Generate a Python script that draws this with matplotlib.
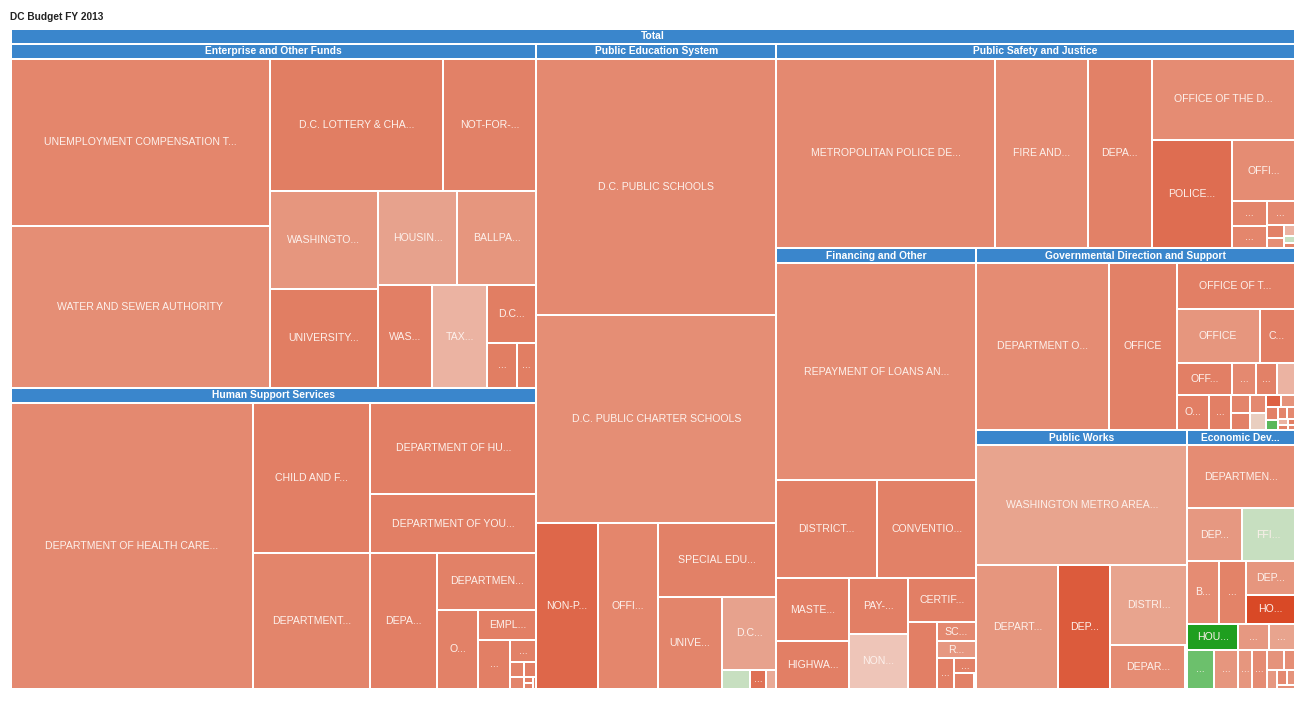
import matplotlib
matplotlib.use("Agg")
import matplotlib.pyplot as plt
from matplotlib.patches import Rectangle
from matplotlib.colors import LinearSegmentedColormap

# ---------------- data (values in $ millions, score = colour metric 0..1) ----------------
title = "DC Budget FY 2013"
root_name = "Total"

group_names = ["Enterprise and Other Funds", "Human Support Services", "Public Education System",
               "Public Safety and Justice", "Financing and Other",
               "Governmental Direction and Support", "Public Works", "Economic Dev..."]

enterprise_labels = ["UNEMPLOYMENT COMPENSATION T...", "WATER AND SEWER AUTHORITY", "D.C. LOTTERY & CHA...",
                     "NOT-FOR-...", "WASHINGTO...", "UNIVERSITY...", "HOUSIN...", "BALLPA...", "WAS...",
                     "TAX...", "D.C...", "...", "..."]
enterprise_values = [546.4, 526.8, 288.0, 153.9, 133.6, 133.6, 95.0, 94.0, 70.1, 70.1, 35.6, 16.8, 10.6]
enterprise_scores = [0.75, 0.72, 0.80, 0.78, 0.69, 0.80, 0.64, 0.69, 0.79, 0.55, 0.80, 0.80, 0.80]

human_labels = ["DEPARTMENT OF HEALTH CARE...", "CHILD AND F...", "DEPARTMENT...", "DEPARTMENT OF HU...",
                "DEPARTMENT OF YOU...", "DEPA...", "DEPARTMEN...", "O...", "EMPL...", "...", "...",
                "", "", "", "", "", ""]
human_values = [877.4, 222.5, 201.6, 192.3, 123.9, 114.7, 70.8, 41.2, 22.4, 19.3, 7.1,
                2.6, 2.4, 2.1, 0.8, 0.6, 0.45]
human_scores = [0.74, 0.79, 0.76, 0.79, 0.79, 0.79, 0.78, 0.78, 0.79, 0.79, 0.78,
                0.77, 0.79, 0.76, 0.80, 0.78, 0.77]

education_labels = ["D.C. PUBLIC SCHOOLS", "D.C. PUBLIC CHARTER SCHOOLS", "NON-P...", "OFFI...",
                    "SPECIAL EDU...", "UNIVE...", "D.C...", "", "...", ""]
education_values = [758.0, 616.0, 124.6, 122.4, 107.2, 72.2, 49.1, 6.6, 3.6, 2.5]
education_scores = [0.74, 0.72, 0.88, 0.75, 0.78, 0.76, 0.64, 0.30, 0.85, 0.60]

safety_labels = ["METROPOLITAN POLICE DE...", "FIRE AND...", "DEPA...", "OFFICE OF THE D...",
                 "POLICE...", "OFFI...", "...", "...", "...", "", "", "", "", ""]
safety_values = [535.9, 228.6, 157.3, 151.4, 111.9, 49.4, 11.1, 9.9, 8.5, 2.9, 2.1, 1.6, 1.0, 0.65]
safety_scores = [0.74, 0.73, 0.78, 0.73, 0.86, 0.73, 0.76, 0.75, 0.74, 0.78, 0.72, 0.55, 0.30, 0.76]

financing_labels = ["REPAYMENT OF LOANS AN...", "DISTRICT...", "CONVENTIO...", "MASTE...", "HIGHWA...",
                    "PAY-...", "NON...", "CERTIF...", "", "SC...", "R...", "...", "...", "", ""]
financing_values = [541.9, 122.2, 120.9, 56.7, 42.6, 41.2, 39.9, 37.2, 23.9, 9.6, 8.5, 6.5, 4.1, 3.8, 0.5]
financing_scores = [0.73, 0.78, 0.78, 0.79, 0.79, 0.79, 0.45, 0.79, 0.79, 0.74, 0.68, 0.79, 0.78, 0.78, 1.0]

government_labels = ["DEPARTMENT O...", "OFFICE", "OFFICE OF T...", "OFFICE", "C...", "OFF...", "...",
                     "...", "", "O...", "...", "", "", "", "", "", "", "", "", "", "", "", "", "", ""]
government_values = [289.5, 149.1, 71.7, 58.1, 24.5, 23.2, 10.1, 8.9, 7.2, 14.7, 10.5,
                     4.4, 4.0, 3.8, 3.6, 2.6, 2.2, 2.0, 1.6, 1.3, 1.1, 0.8, 0.7, 0.5, 0.4]
government_scores = [0.73, 0.78, 0.79, 0.69, 0.79, 0.79, 0.74, 0.78, 0.55, 0.79, 0.79,
                     0.76, 0.78, 0.74, 0.40, 0.90, 0.70, 0.78, 0.12, 0.76, 0.74, 0.55, 0.78, 0.80, 0.75]

works_labels = ["WASHINGTON METRO AREA...", "DEPART...", "DEP...", "DISTRI...", "DEPAR...", ""]
works_values = [323.2, 129.4, 82.0, 78.0, 41.9, 1.1]
works_scores = [0.63, 0.69, 0.92, 0.63, 0.73, 0.73]

econ_labels = ["DEPARTMEN...", "DEP...", "FFI...", "B...", "...", "DEP...", "HO...", "HOU...", "...",
               "...", "...", "...", "...", "...", "", "", "", "", "", ""]
econ_values = [87.2, 37.0, 35.0, 25.7, 21.6, 21.1, 17.4, 17.5, 10.5, 8.7, 13.1, 11.6, 7.1, 7.1,
               4.3, 2.8, 2.3, 1.9, 1.4, 0.8]
econ_scores = [0.73, 0.68, 0.30, 0.73, 0.77, 0.69, 0.98, 0.02, 0.68, 0.63, 0.15, 0.69, 0.69, 0.73,
               0.70, 0.72, 0.68, 0.74, 0.70, 0.72]

# ---------------- layout structure (strip orientation + cells per strip) ----------------
root_plan = [('v', [1, 1]), ('v', [1]), ('h', [1]), ('v', [1]), ('h', [1]), ('v', [1]), ('h', [1])]
plans = [
    [('v', [1, 1]), ('h', [1, 1]), ('v', [1, 1]), ('h', [1, 1]), ('v', [1]), ('v', [1]), ('h', [1]),
     ('v', [1]), ('h', [1])],
    [('v', [1]), ('v', [1, 1]), ('h', [1]), ('h', [1]), ('v', [1]), ('h', [1]), ('v', [1]), ('h', [1]),
     ('v', [1])],
    [('h', [1]), ('h', [1]), ('v', [1]), ('v', [1]), ('h', [1]), ('v', [1]), ('h', [1]), ('h', [1, 1, 1])],
    [('v', [1]), ('v', [1]), ('v', [1]), ('h', [1]), ('v', [1]), ('h', [1])],
    [('h', [1]), ('h', [1, 1]), ('v', [1, 1]), ('v', [1, 1]), ('h', [1]), ('v', [1]), ('h', [1]),
     ('h', [1]), ('v', [1]), ('h', [1]), ('h', [1, 1])],
    [('v', [1]), ('v', [1]), ('h', [1]), ('h', [1, 1]), ('h', [1, 1, 1, 1]), ('h', [1, 1, 14])],
    [('h', [1]), ('v', [1]), ('v', [1]), ('h', [1]), ('v', [1]), ('v', [1])],
    [('h', [1]), ('h', [1, 1]), ('h', [1, 1, 2]), ('h', [1, 1, 1]), ('h', [1, 1, 1, 1, 6])],
]

groups = list(zip(group_names,
                  [enterprise_labels, human_labels, education_labels, safety_labels, financing_labels,
                   government_labels, works_labels, econ_labels],
                  [enterprise_values, human_values, education_values, safety_values, financing_values,
                   government_values, works_values, econ_values],
                  [enterprise_scores, human_scores, education_scores, safety_scores, financing_scores,
                   government_scores, works_scores, econ_scores],
                  plans))


# ---------------- treemap layout helpers ----------------
def split_strip(vals, box, horizontal):
    x0, y0, x1, y1 = box
    s = float(sum(vals))
    out = []
    if horizontal:
        x = x0
        for v in vals:
            w = (x1 - x0) * v / s if s else 0
            out.append((x, y0, x + w, y1))
            x += w
    else:
        y = y0
        for v in vals:
            h = (y1 - y0) * v / s if s else 0
            out.append((x0, y, x1, y + h))
            y += h
    return out


def squarify(vals, box):
    x0, y0, x1, y1 = box
    out = []
    value = float(sum(vals))
    n = len(vals)
    i0 = 0
    while i0 < n:
        dx, dy = max(x1 - x0, 1e-9), max(y1 - y0, 1e-9)
        s = vals[i0]
        mn = mx = s
        i1 = i0 + 1
        alpha = max(dy / dx, dx / dy) / value
        beta = s * s * alpha
        best = max(mx / beta, beta / mn)
        while i1 < n:
            v = vals[i1]
            s2 = s + v
            b = s2 * s2 * alpha
            r = max(max(mx, v) / b, b / min(mn, v))
            if r > best:
                break
            s, best = s2, r
            mn, mx = min(mn, v), max(mx, v)
            i1 += 1
        row = vals[i0:i1]
        if dx < dy:
            h = dy * s / value
            out += split_strip(row, (x0, y0, x1, y0 + h), True)
            y0 += h
        else:
            w = dx * s / value
            out += split_strip(row, (x0, y0, x0 + w, y1), False)
            x0 += w
        value -= s
        i0 = i1
    return out


def plan_layout(vals, plan, box):
    x0, y0, x1, y1 = box
    out = []
    remaining = float(sum(vals))
    i = 0
    for orient, cells in plan:
        k = sum(cells)
        seg = vals[i:i + k]
        s = float(sum(seg))
        if orient == 'h':
            h = (y1 - y0) * s / remaining
            strip = (x0, y0, x1, y0 + h)
            y0 += h
        else:
            w = (x1 - x0) * s / remaining
            strip = (x0, y0, x0 + w, y1)
            x0 += w
        sums, j = [], 0
        for c in cells:
            sums.append(sum(seg[j:j + c]))
            j += c
        j = 0
        for c, cb in zip(cells, split_strip(sums, strip, orient == 'h')):
            sub = seg[j:j + c]
            out += [cb] if c == 1 else squarify(sub, cb)
            j += c
        i += k
        remaining -= s
    if i < len(vals):
        out += squarify(vals[i:], (x0, y0, x1, y1))
    return out


# ---------------- drawing ----------------
plt.rcParams['font.family'] = ['Liberation Sans', 'DejaVu Sans']

cmap = LinearSegmentedColormap.from_list("budget", [
    (0.00, '#139a13'), (0.15, '#6dc06d'), (0.30, '#c8dfc1'), (0.42, '#efcbbf'),
    (0.55, '#ebb3a2'), (0.65, '#e7a08a'), (0.75, '#e4876d'), (0.82, '#e07a5f'),
    (0.90, '#dd6244'), (1.00, '#d8431f')])

HEADER_BLUE = '#3a86cc'
HEADER = 15.0
GAP = 1.0
W, H = 1308, 701
BOX = (10.5, 43.5, 1294.5, 688.5)
LEAF_FS = 7.6
HEAD_FS = 7.4

fig = plt.figure(figsize=(W / 100, H / 100), dpi=100)
ax = fig.add_axes([0, 0, 1, 1])
ax.set_xlim(0, W)
ax.set_ylim(H, 0)
ax.axis('off')

ax.text(10, 17, title, fontsize=7.3, fontweight='bold', color='#222222', ha='left', va='center')

# root header
ax.add_patch(Rectangle((BOX[0] + GAP, 29.5), BOX[2] - BOX[0] - 2 * GAP, 13.5, facecolor=HEADER_BLUE, lw=0))
ax.text((BOX[0] + BOX[2]) / 2, 36.3, root_name, fontsize=HEAD_FS, fontweight='bold', color='white',
        ha='center', va='center')

group_totals = [sum(g[2]) for g in groups]
group_boxes = plan_layout(group_totals, root_plan, BOX)

for (gname, labels, vals, scores, plan), gbox in zip(groups, group_boxes):
    gx0, gy0, gx1, gy1 = gbox
    ax.add_patch(Rectangle((gx0 + GAP, gy0 + GAP), gx1 - gx0 - 2 * GAP, HEADER - 2 * GAP,
                           facecolor=HEADER_BLUE, lw=0))
    ax.text((gx0 + gx1) / 2, gy0 + HEADER / 2 + 0.3, gname, fontsize=HEAD_FS, fontweight='bold',
            color='white', ha='center', va='center')
    rects = plan_layout(vals, plan, (gx0, gy0 + HEADER, gx1, gy1))
    for (x0, y0, x1, y1), lab, sc in zip(rects, labels, scores):
        w = max(x1 - x0 - 2 * GAP, 0.3)
        h = max(y1 - y0 - 2 * GAP, 0.3)
        ax.add_patch(Rectangle((x0 + GAP, y0 + GAP), w, h, facecolor=cmap(sc), lw=0))
        if lab:
            ax.text((x0 + x1) / 2, (y0 + y1) / 2, lab, fontsize=LEAF_FS, color='#fdf1ec',
                    ha='center', va='center')

fig.savefig("out.png", dpi=100, facecolor='white')
